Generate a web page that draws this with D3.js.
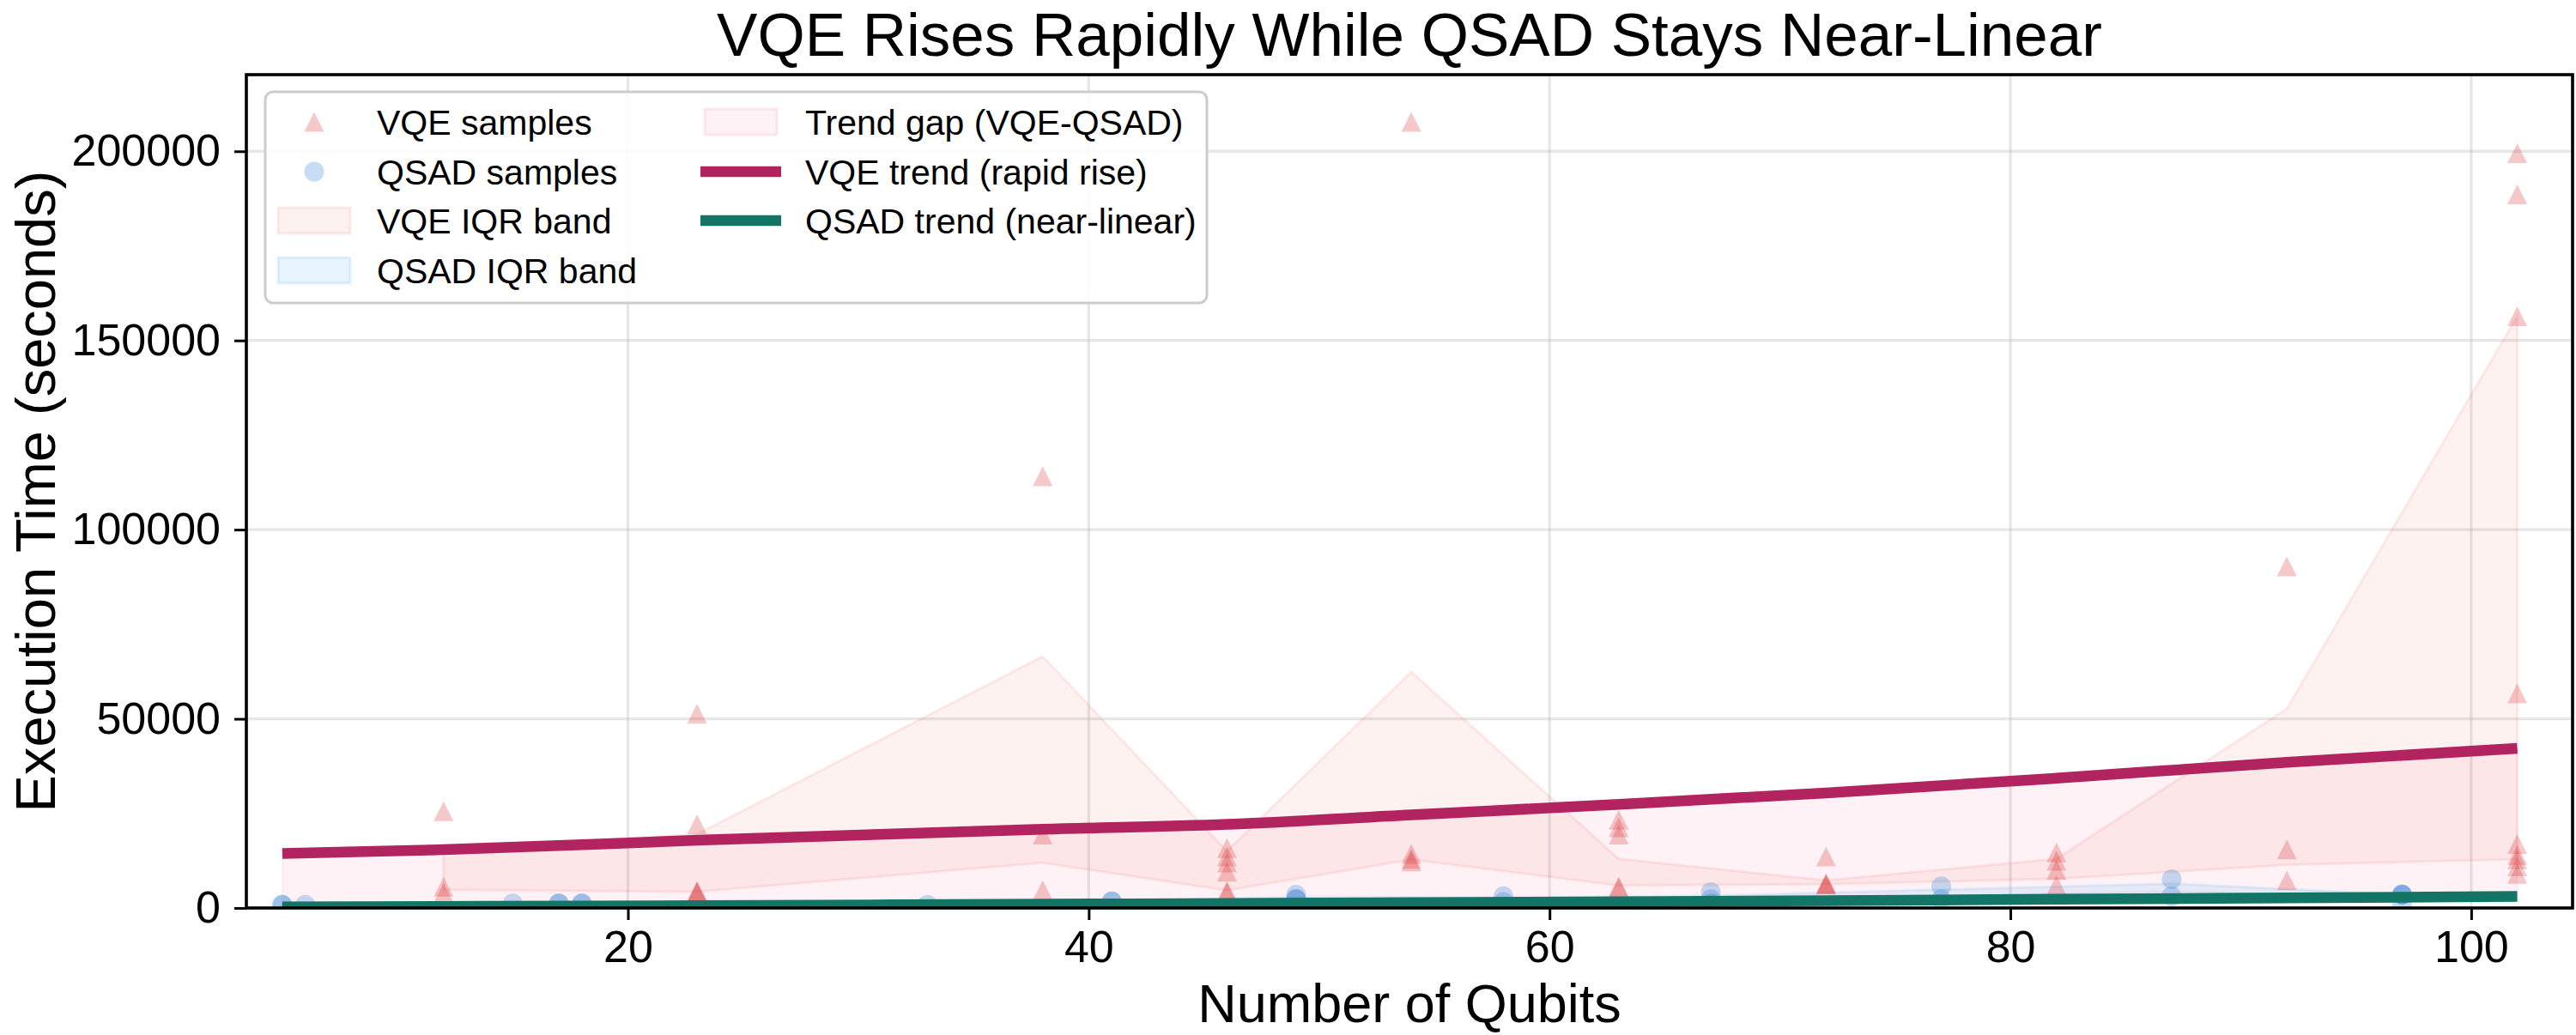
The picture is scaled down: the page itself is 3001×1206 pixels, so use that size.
<!DOCTYPE html>
<html>
<head>
<meta charset="utf-8">
<script src="https://cdn.jsdelivr.net/npm/d3@7/dist/d3.min.js"></script>
<style>
  body { margin: 0; background: #fff; }
  svg { display: block; font-family: "Liberation Sans", Arial, sans-serif; }
</style>
</head>
<body>
<div id="chart"></div>
<script>
// --- Data ---
const vqeX = [12, 23, 38, 46, 54, 63, 72, 82, 92, 102];
const vqeSamples = [
  [25600, 5600, 4000],
  [51300, 22100, 4500, 4300, 4100],
  [114100, 19400, 4700],
  [15800, 13600, 12000, 9600, 4400, 4200],
  [207800, 14300, 13000, 12300],
  [23300, 21300, 19400, 5600, 5400],
  [13600, 6500, 6300, 6200],
  [14700, 12500, 10100, 6000],
  [90300, 15500, 7300],
  [199500, 188600, 156400, 56700, 16900, 14000, 12900, 11000, 9000]
];
const vqeQ25 = [4800, 4300, 11950, 4650, 12800, 5970, 6300, 7700, 11400, 12900];
const vqeQ75 = [15600, 19500, 66500, 15000, 62400, 13000, 7300, 13000, 52700, 156400];

const qsadX = [5, 6, 15, 17, 18, 33, 41, 49, 58, 67, 77, 87, 97];
const qsadSamples = [
  [900, 800],
  [850],
  [1200],
  [1250, 1150],
  [1250, 1150],
  [850],
  [1800, 1700],
  [3500, 2400, 2300],
  [3100, 1600],
  [4200, 2300, 1200],
  [5700, 2300],
  [7600, 3100],
  [3600, 3550, 3500, 700]
];
const qsadQ25 = [825, 850, 1200, 1175, 1175, 850, 1725, 2350, 1975, 1750, 3150, 4225, 2725];
const qsadQ75 = [875, 850, 1200, 1225, 1225, 850, 1775, 2950, 2725, 3250, 4850, 6475, 3525];

const trendX = [5, 12, 23, 38, 46, 54, 63, 72, 82, 92, 102];
const vqeTrend = [14400, 15400, 17900, 20800, 22100, 24600, 27400, 30400, 34300, 38500, 42200];
const qsadTrend = [300, 420, 620, 1000, 1200, 1400, 1650, 1950, 2300, 2650, 3050];

const xTicks = [20, 40, 60, 80, 100];
const yTicks = [0, 50000, 100000, 150000, 200000];

// --- Colours ---
const vqeColor = '#d62728';
const qsadColor = '#1f78d1';
const vqeTrendColor = '#b2245f';
const qsadTrendColor = '#137565';
const vqeBandColor = '#ef5350';
const qsadBandColor = '#42a5f5';
const gapColor = '#e91e63';

// --- Plot sizing ---
const W = 3001, H = 1206;
const margin = { top: 87, right: 4, bottom: 148, left: 287 };
const width = W - margin.left - margin.right;
const height = H - margin.top - margin.bottom;

const svg = d3.select('#chart').append('svg')
  .attr('width', W)
  .attr('height', H);

svg.append('rect').attr('width', W).attr('height', H).attr('fill', '#fff');

const plot = svg.append('g')
  .attr('transform', `translate(${margin.left},${margin.top})`);

plot.append('clipPath').attr('id', 'clip')
  .append('rect').attr('width', width).attr('height', height);

// --- Scales ---
const x = d3.scaleLinear().domain([3.44, 104.4]).range([0, width]);
const y = d3.scaleLinear().domain([0, 220250]).range([height, 0]);

// grid
const grid = plot.append('g').attr('class', 'grid')
  .attr('stroke', '#b0b0b0').attr('stroke-opacity', 0.3).attr('stroke-width', 3.3);
grid.selectAll('.gx').data(xTicks).enter().append('line')
  .attr('x1', d => x(d)).attr('x2', d => x(d))
  .attr('y1', 0).attr('y2', height);
grid.selectAll('.gy').data(yTicks).enter().append('line')
  .attr('x1', 0).attr('x2', width)
  .attr('y1', d => y(d)).attr('y2', d => y(d));

const marks = plot.append('g').attr('clip-path', 'url(#clip)');

// --- Bands ---
const trendRows = trendX.map((v, i) => ({ x: v, hi: vqeTrend[i], lo: qsadTrend[i] }));
const vqeBand = vqeX.map((v, i) => ({ x: v, lo: vqeQ25[i], hi: vqeQ75[i] }));
const qsadBand = qsadX.map((v, i) => ({ x: v, lo: qsadQ25[i], hi: qsadQ75[i] }));

const gapArea = d3.area()
  .curve(d3.curveMonotoneX)
  .x(d => x(d.x)).y0(d => y(d.lo)).y1(d => y(d.hi));

const bandArea = d3.area()
  .x(d => x(d.x)).y0(d => y(d.lo)).y1(d => y(d.hi));

marks.append('path')
  .datum(trendRows)
  .attr('d', gapArea)
  .attr('fill', gapColor).attr('fill-opacity', 0.06)
  .attr('stroke', gapColor).attr('stroke-opacity', 0.05).attr('stroke-width', 2);

marks.append('path')
  .datum(vqeBand)
  .attr('d', bandArea)
  .attr('fill', vqeBandColor).attr('fill-opacity', 0.08)
  .attr('stroke', vqeBandColor).attr('stroke-opacity', 0.1).attr('stroke-width', 3);

marks.append('path')
  .datum(qsadBand)
  .attr('d', bandArea)
  .attr('fill', qsadBandColor).attr('fill-opacity', 0.12)
  .attr('stroke', qsadBandColor).attr('stroke-opacity', 0.12).attr('stroke-width', 3);

// --- Samples ---
const triPath = 'M0,-11.5L11.5,11.5L-11.5,11.5Z';

const vqePts = vqeX.flatMap((v, i) => vqeSamples[i].map(s => ({ x: v, y: s })));
const qsadPts = qsadX.flatMap((v, i) => qsadSamples[i].map(s => ({ x: v, y: s })));

marks.append('g').selectAll('path')
  .data(vqePts)
  .enter().append('path')
  .attr('d', triPath)
  .attr('transform', d => `translate(${x(d.x)},${y(d.y)})`)
  .attr('fill', vqeColor).attr('fill-opacity', 0.25);

marks.append('g').selectAll('circle')
  .data(qsadPts)
  .enter().append('circle')
  .attr('cx', d => x(d.x)).attr('cy', d => y(d.y))
  .attr('r', 11.5)
  .attr('fill', qsadColor).attr('fill-opacity', 0.25);

// --- Trend lines ---
const trendLine = key => d3.line()
  .curve(d3.curveMonotoneX)
  .x(d => x(d.x)).y(d => y(d[key]));

marks.append('path')
  .datum(trendRows)
  .attr('d', trendLine('hi'))
  .attr('fill', 'none').attr('stroke', vqeTrendColor).attr('stroke-width', 12.5);

marks.append('path')
  .datum(trendRows)
  .attr('d', trendLine('lo'))
  .attr('fill', 'none').attr('stroke', qsadTrendColor).attr('stroke-width', 12.5);

// --- Axes ---
const xAxis = d3.axisBottom(x).tickValues(xTicks).tickSize(14).tickPadding(12);
const yAxis = d3.axisLeft(y).tickValues(yTicks).tickSize(14).tickPadding(16).tickFormat(d3.format('d'));

const gx = plot.append('g')
  .attr('transform', `translate(0,${height})`)
  .call(xAxis);
const gy = plot.append('g').call(yAxis);

[gx, gy].forEach(g => {
  g.select('.domain').remove();
  g.selectAll('.tick line').attr('stroke', '#000').attr('stroke-width', 3);
  g.selectAll('.tick text')
    .attr('fill', '#000')
    .style('font-size', '52px')
    .style('font-family', '"Liberation Sans", Arial, sans-serif');
});

// spines
plot.append('rect')
  .attr('width', width).attr('height', height)
  .attr('fill', 'none').attr('stroke', '#000').attr('stroke-width', 3.6);

// --- Titles ---
svg.append('text')
  .attr('x', margin.left + width / 2).attr('y', 65)
  .attr('text-anchor', 'middle')
  .style('font-size', '71px')
  .text('VQE Rises Rapidly While QSAD Stays Near-Linear');

svg.append('text')
  .attr('x', margin.left + width / 2).attr('y', 1191)
  .attr('text-anchor', 'middle')
  .style('font-size', '63px')
  .text('Number of Qubits');

svg.append('text')
  .attr('transform', `translate(64,${margin.top + height / 2}) rotate(-90)`)
  .attr('text-anchor', 'middle')
  .style('font-size', '65px')
  .text('Execution Time (seconds)');

// --- Legend ---
const legend = svg.append('g');

legend.append('rect')
  .attr('x', 309).attr('y', 107)
  .attr('width', 1097).attr('height', 246)
  .attr('rx', 9)
  .attr('fill', '#fff').attr('fill-opacity', 0.85)
  .attr('stroke', '#cccccc').attr('stroke-width', 3);

const legendItems = [
  { label: 'VQE samples', kind: 'tri', col: 0, row: 0 },
  { label: 'QSAD samples', kind: 'dot', col: 0, row: 1 },
  { label: 'VQE IQR band', kind: 'vqeBand', col: 0, row: 2 },
  { label: 'QSAD IQR band', kind: 'qsadBand', col: 0, row: 3 },
  { label: 'Trend gap (VQE-QSAD)', kind: 'gap', col: 1, row: 0 },
  { label: 'VQE trend (rapid rise)', kind: 'vqeLine', col: 1, row: 1 },
  { label: 'QSAD trend (near-linear)', kind: 'qsadLine', col: 1, row: 2 }
];

const colX = [324, 821];
const rowY = [142, 200, 257, 315];

legendItems.forEach(it => {
  const x0 = colX[it.col], cy = rowY[it.row], cx = x0 + 42;
  const g = legend.append('g');
  if (it.kind === 'tri') {
    g.append('path').attr('d', triPath)
      .attr('transform', `translate(${cx},${cy})`)
      .attr('fill', vqeColor).attr('fill-opacity', 0.25);
  } else if (it.kind === 'dot') {
    g.append('circle').attr('cx', cx).attr('cy', cy).attr('r', 11.5)
      .attr('fill', qsadColor).attr('fill-opacity', 0.25);
  } else if (it.kind.endsWith('Line')) {
    g.append('line')
      .attr('x1', x0 - 5).attr('x2', x0 + 89)
      .attr('y1', cy).attr('y2', cy)
      .attr('stroke', it.kind === 'vqeLine' ? vqeTrendColor : qsadTrendColor)
      .attr('stroke-width', 12.5);
  } else {
    const c = it.kind === 'vqeBand' ? vqeBandColor : it.kind === 'qsadBand' ? qsadBandColor : gapColor;
    const op = it.kind === 'vqeBand' ? 0.08 : it.kind === 'qsadBand' ? 0.12 : 0.06;
    g.append('rect')
      .attr('x', x0).attr('y', cy - 15)
      .attr('width', 84).attr('height', 30)
      .attr('fill', c).attr('fill-opacity', op)
      .attr('stroke', c).attr('stroke-opacity', op + 0.03).attr('stroke-width', 3);
  }
  g.append('text')
    .attr('x', it.col === 0 ? 439 : 938)
    .attr('y', cy + 14.5)
    .style('font-size', '41px')
    .text(it.label);
});
</script>
</body>
</html>
